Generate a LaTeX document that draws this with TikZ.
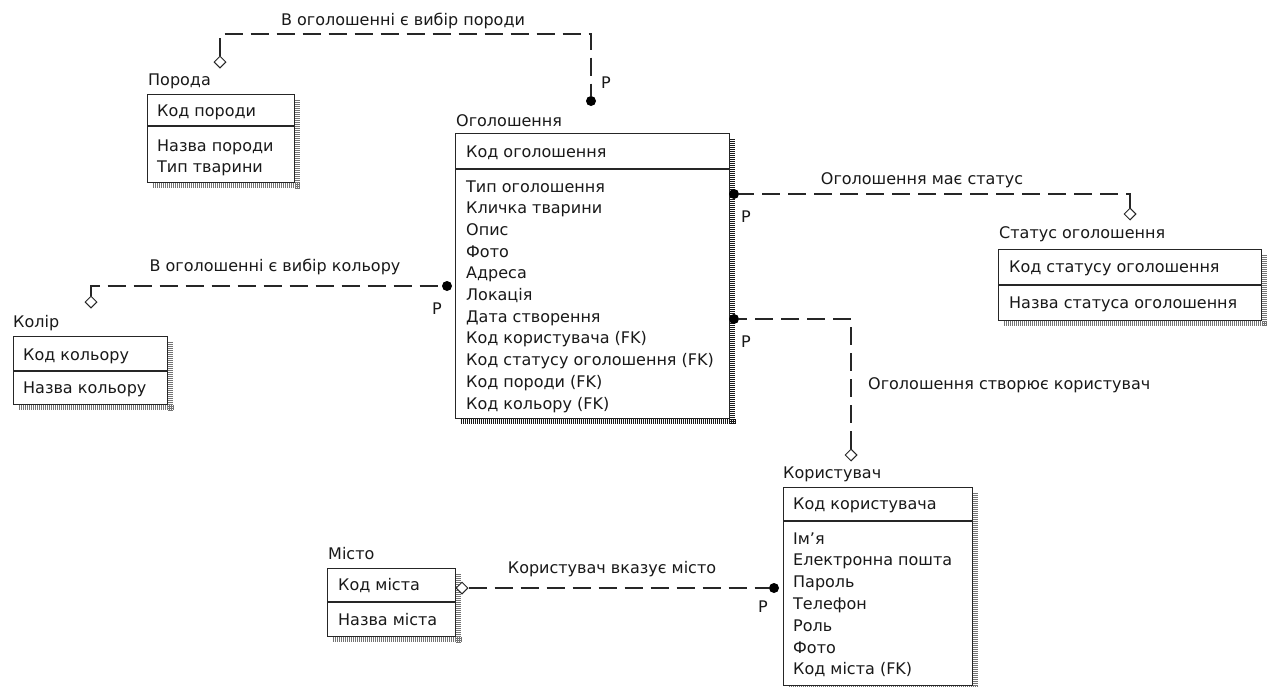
\documentclass[tikz,border=0pt]{standalone}
\usepackage{fontspec}
\setmainfont{DejaVu Sans}
\usetikzlibrary{shapes.geometric}
\newcommand\erfont{\fontsize{16}{21.7}\selectfont}

\tikzset{
  ent/.style={draw=black!85, line width=1.4pt, fill=white, inner sep=0pt, anchor=north west},
  entline/.style={draw=black!85, line width=1.3pt},
  txt/.style={inner sep=0pt, anchor=west, font=\erfont, text=black!90, text height=11pt, text depth=3pt},
  lbl/.style={inner sep=0pt, font=\erfont, text=black!90, text height=11pt, text depth=3pt},
  rel/.style={draw=black!85, line width=1.3pt, dash pattern=on 18pt off 8pt},
  fkdot/.style={circle, fill=black, inner sep=0pt, minimum size=10pt},
  dmd/.style={diamond, draw=black!85, line width=1pt, fill=white, inner sep=0pt, minimum width=12pt, minimum height=12pt},
  shade/.style={line width=5pt, dash pattern=on 1.2pt off 0.8pt}
}

% hatched drop shadow along the right and bottom edges of an entity box
\newcommand\entshade[2]{%
  \draw[shade, #2] ([xshift=2.5pt,yshift=-6pt]#1.north east) -- ([xshift=2.5pt,yshift=-5pt]#1.south east);
  \draw[shade, #2] ([xshift=6pt,yshift=-2.5pt]#1.south west) -- ([xshift=5pt,yshift=-2.5pt]#1.south east);
}

\begin{document}
\begin{tikzpicture}[x=1pt,y=-1pt]
\useasboundingbox (0,0) rectangle (1270,686);
\fill[white] (0,0) rectangle (1270,686);

% ---------- entity boxes ----------
\node[ent, minimum width=147pt, minimum height=88pt] (por) at (147,94) {};
\node[ent, minimum width=274pt, minimum height=285pt] (ogo) at (455,133) {};
\node[ent, minimum width=263pt, minimum height=71pt] (sta) at (998,249) {};
\node[ent, minimum width=154pt, minimum height=68pt] (kol) at (13,336) {};
\node[ent, minimum width=189pt, minimum height=198pt] (kor) at (783,487) {};
\node[ent, minimum width=128pt, minimum height=68pt] (mis) at (327,568) {};

\entshade{por}{black!55}
\entshade{ogo}{black!90}
\entshade{sta}{black!55}
\entshade{kol}{black!55}
\entshade{kor}{black!55}
\entshade{mis}{black!55}

% key / attribute dividers
\coordinate (por-d) at (147,126);
\coordinate (ogo-d) at (455,169);
\coordinate (sta-d) at (998,285);
\coordinate (kol-d) at (13,371);
\coordinate (kor-d) at (783,521);
\coordinate (mis-d) at (327,602);
\draw[entline] (por-d) -- (por-d -| por.east);
\draw[entline] (ogo-d) -- (ogo-d -| ogo.east);
\draw[entline] (sta-d) -- (sta-d -| sta.east);
\draw[entline] (kol-d) -- (kol-d -| kol.east);
\draw[entline] (kor-d) -- (kor-d -| kor.east);
\draw[entline] (mis-d) -- (mis-d -| mis.east);

% ---------- Порода ----------
\node[txt] (por-t) at (148,81) {Порода};
\node[txt] (por-k) at (157,112) {Код породи};
\node[txt] (por-a1) at (157,147) {Назва породи};
\node[txt] (por-a2) at (157,168) {Тип тварини};

% ---------- Оголошення ----------
\node[txt] (ogo-t) at (456,122) {Оголошення};
\node[txt] (ogo-k) at (466,153) {Код оголошення};
\foreach \t [count=\i] in {Тип оголошення, Кличка тварини, Опис, Фото, Адреса, Локація,
  Дата створення, Код користувача (FK), Код статусу оголошення (FK), Код породи (FK),
  Код кольору (FK)}
  \node[txt] (ogo-a\i) at (466,{188+21.7*(\i-1)}) {\t};

% ---------- Статус оголошення ----------
\node[txt] (sta-t) at (999,234) {Статус оголошення};
\node[txt] (sta-k) at (1009,268) {Код статусу оголошення};
\node[txt] (sta-a1) at (1009,304) {Назва статуса оголошення};

% ---------- Колір ----------
\node[txt] (kol-t) at (13,323) {Колір};
\node[txt] (kol-k) at (23,356) {Код кольору};
\node[txt] (kol-a1) at (23,389) {Назва кольору};

% ---------- Користувач ----------
\node[txt] (kor-t) at (783,474) {Користувач};
\node[txt] (kor-k) at (793,505) {Код користувача};
\foreach \t [count=\i] in {Ім'я, Електронна пошта, Пароль, Телефон, Роль, Фото, Код міста (FK)}
  \node[txt] (kor-a\i) at (793,{540+21.8*(\i-1)}) {\t};

% ---------- Місто ----------
\node[txt] (mis-t) at (328,555) {Місто};
\node[txt] (mis-k) at (338,586) {Код міста};
\node[txt] (mis-a1) at (338,621) {Назва міста};

% ---------- relationship ends ----------
\node[dmd] (m-por) at (220,62) {};
\node[fkdot] (d-por) at (591,101) {};
\node[fkdot] (d-sta) at (734,194) {};
\node[dmd] (m-sta) at (1130,214) {};
\node[fkdot] (d-kol) at (447,286) {};
\node[dmd] (m-kol) at (91,302) {};
\node[fkdot] (d-kor) at (734,319) {};
\node[dmd] (m-kor) at (851,455) {};
\node[dmd] (m-mis) at (462,588) {};
\node[fkdot] (d-mis) at (774,588) {};
\coordinate (b-por) at (400,34);

% ---------- relationship lines ----------
\draw[rel] (m-por.north) |- (b-por) -| (d-por.north);
\draw[rel] (m-sta.north) |- (d-sta.east);
\draw[rel] (m-kol.north) |- (d-kol.west);
\draw[rel] (m-kor.north) |- (d-kor.east);
\draw[rel] (m-mis.east) -- (d-mis.west);

% ---------- relationship labels ----------
\node[lbl] (l-por) at (403,21) {В оголошенні є вибір породи};
\node[lbl] (p-por) at (606,84) {P};
\node[lbl] (l-sta) at (922,180) {Оголошення має статус};
\node[lbl] (p-sta) at (746,218) {P};
\node[lbl] (l-kol) at (275,267) {В оголошенні є вибір кольору};
\node[lbl] (p-kol) at (437,310) {P};
\node[lbl, anchor=west] (l-kor) at (868,385) {Оголошення створює користувач};
\node[lbl] (p-kor) at (746,343) {P};
\node[lbl] (l-mis) at (612,569) {Користувач вказує місто};
\node[lbl] (p-mis) at (763,608) {P};
\end{tikzpicture}
\end{document}
